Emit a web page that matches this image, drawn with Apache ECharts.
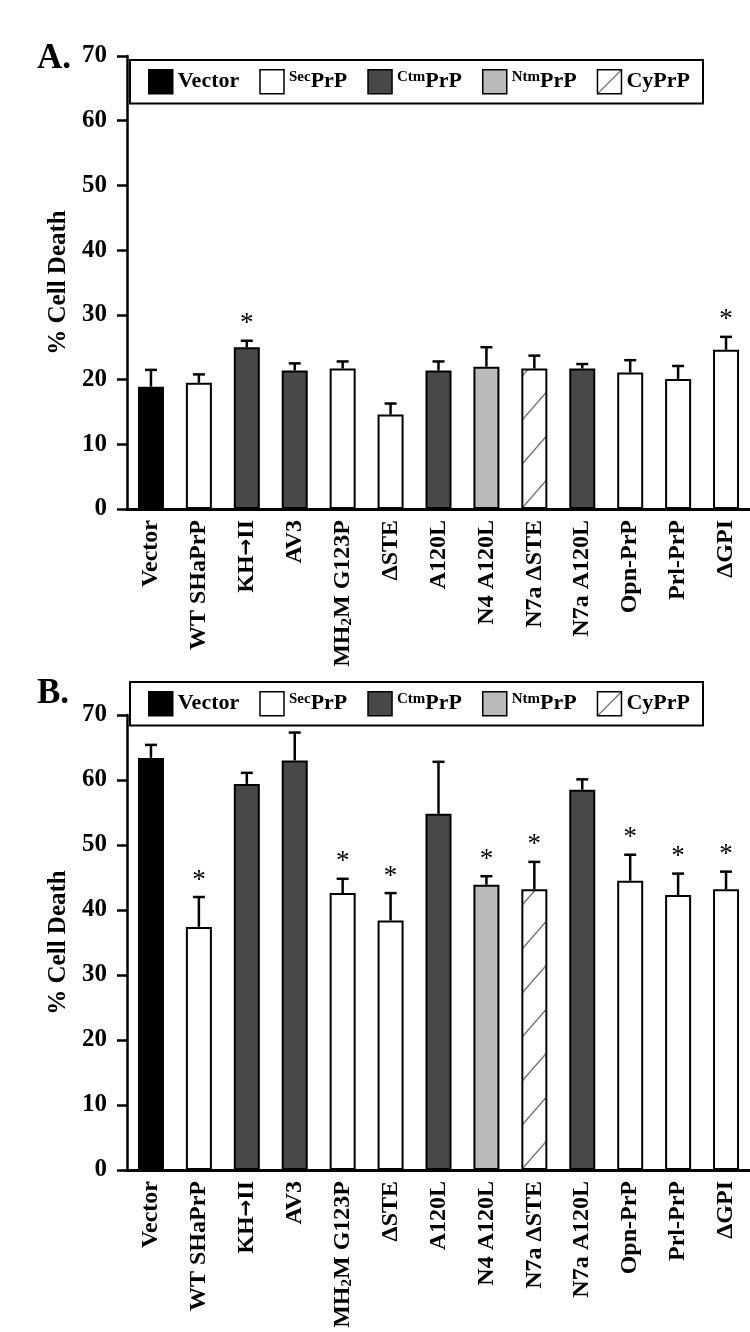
<!DOCTYPE html>
<html><head><meta charset="utf-8">
<script src="https://cdn.jsdelivr.net/npm/echarts@6/dist/echarts.min.js"></script>
<style>html,body{margin:0;padding:0;background:#fff}#c{width:750px;height:1332px}</style>
</head><body><div id="c"></div>
<script>
const categories = ['Vector','WT SHaPrP','KH\u2192II','AV3','MH2M G123P','\u0394STE','A120L','N4 A120L','N7a \u0394STE','N7a A120L','Opn-PrP','Prl-PrP','\u0394GPI'];
const groupOf = ['Vector','Sec','Ctm','Ctm','Sec','Sec','Ctm','Ntm','Cy','Ctm','Sec','Sec','Sec'];
const valuesA = [18.9,19.5,25.0,21.4,21.7,14.6,21.4,22.0,21.7,21.7,21.1,20.1,24.6];
const errA    = [2.6,1.3,1.0,1.1,1.1,1.7,1.4,3.0,2.0,0.7,1.9,2.0,2.0];
const sigA    = [2,12];
const valuesB = [63.4,37.4,59.4,63.0,42.6,38.4,54.8,43.9,43.2,58.5,44.5,42.3,43.2];
const errB    = [2.0,4.6,1.7,4.3,2.2,4.2,8.0,1.3,4.2,1.6,4.0,3.3,2.7];
const sigB    = [1,4,5,7,8,10,11,12];
const legendNames = ['Vector','Sec','Ctm','Ntm','Cy'];
const yTicks = {min:0, max:70, interval:10};

const FONT = 'Liberation Serif';
const solid = {Vector:'#000000', Sec:'#ffffff', Ctm:'#484848', Ntm:'#bababa'};

function hatch(w,h,x1,y1,x2,y2){
  const c=document.createElement('canvas'); c.width=w; c.height=h;
  const g=c.getContext('2d'); g.fillStyle='#fff'; g.fillRect(0,0,w,h);
  g.strokeStyle='#000'; g.lineWidth=1; g.beginPath(); g.moveTo(x1,y1); g.lineTo(x2,y2); g.stroke();
  return c;
}
const barTile = hatch(26,44,0,44,26,14);
const legTile = hatch(24,24,0,24,24,0);

function fillFor(grp, pat){ return grp==='Cy' ? pat : solid[grp]; }

function barSeries(idx, values, pat){
  return {type:'bar', xAxisIndex:idx, yAxisIndex:idx, barWidth:26, z:2,
    data: values.map((v,i)=>({value:v, itemStyle:{color:fillFor(groupOf[i],pat), borderColor:'#000', borderWidth:2}})),
    emphasis:{disabled:true}, animation:false};
}
function errSeries(idx, values, errs, sigs){
  return {type:'custom', xAxisIndex:idx, yAxisIndex:idx, z:3, animation:false,
    data: values.map((v,i)=>[i, v, v+errs[i], sigs.includes(i)?1:0]),
    renderItem(params, api){
      const i=api.value(0);
      const p0=api.coord([i, api.value(1)]), p1=api.coord([i, api.value(2)]);
      const cap=6;
      const ch=[
        {type:'line', shape:{x1:p0[0],y1:p0[1],x2:p1[0],y2:p1[1]}, style:{stroke:'#000',lineWidth:2.5}},
        {type:'line', shape:{x1:p1[0]-cap,y1:p1[1],x2:p1[0]+cap,y2:p1[1]}, style:{stroke:'#000',lineWidth:2.5}}
      ];
      if(api.value(3)) ch.push({type:'text', x:p1[0], y:p1[1]-3, style:{text:'*', fontSize:27, fontFamily:FONT, fill:'#000', align:'center', verticalAlign:'bottom'}});
      return {type:'group', children:ch};
    }};
}
function fmtCat(v){
  if(v==='MH2M G123P') return '{b|MH}{sub|2}{b|M G123P}';
  if(v==='KH\u2192II') return '{b|KH}{a|\u2192}{b|II}';
  return '{b|'+v+'}';
}
function xAxis(idx){
  return {type:'category', gridIndex:idx, data:categories,
    axisLine:{show:true, lineStyle:{color:'#000', width:3}}, axisTick:{show:false},
    axisLabel:{interval:0, rotate:90, margin:11, color:'#000', formatter:fmtCat,
      rich:{b:{fontFamily:FONT, fontWeight:'bold', fontSize:24, color:'#000'},
            a:{fontFamily:'DejaVu Sans', fontWeight:'bold', fontSize:20, color:'#000'},
            sub:{fontFamily:FONT, fontWeight:'bold', fontSize:15, color:'#000', padding:[8,0,0,0]}}}};
}
function yAxis(idx){
  return {type:'value', gridIndex:idx, min:yTicks.min, max:yTicks.max, interval:yTicks.interval,
    name:'% Cell Death', nameLocation:'middle', nameGap:46,
    nameTextStyle:{fontFamily:FONT, fontWeight:'bold', fontSize:25, color:'#000'},
    axisLine:{show:true, lineStyle:{color:'#000', width:2.5}},
    axisTick:{show:true, length:10, lineStyle:{color:'#000', width:2.5}},
    splitLine:{show:false},
    axisLabel:{margin:20, fontFamily:FONT, fontWeight:'bold', fontSize:25, color:'#000'}};
}
function legend(top){
  return {left:130, top:top, orient:'horizontal', selectedMode:false,
    borderColor:'#000', borderWidth:2, backgroundColor:'#fff', padding:[9,13,9,18],
    itemWidth:24, itemHeight:24, itemGap:20, icon:'rect',
    data: legendNames.map(n=>({name:n, icon:'rect', itemStyle:{color: n==='Cy'?{image:legTile,repeat:'repeat'}:solid[n], borderColor:'#000', borderWidth:1.5, opacity:1}})),
    formatter: n => n==='Vector' ? '{b|Vector}' : n==='Cy' ? '{b|CyPrP}' : '{s|'+n+'}{b|PrP}',
    textStyle:{color:'#000', rich:{
      b:{fontFamily:FONT, fontWeight:'bold', fontSize:22, color:'#000'},
      s:{fontFamily:FONT, fontWeight:'bold', fontSize:15, color:'#000', padding:[0,0,9,0]}}}};
}
function buildOption(patA, patB){
  return {
    backgroundColor:'#fff', animation:false,
    grid:[{left:127, top:56, width:624, height:453}, {left:127, top:715, width:624, height:455}],
    xAxis:[xAxis(0), xAxis(1)], yAxis:[yAxis(0), yAxis(1)],
    legend:[legend(60), legend(682)],
    graphic:[
      {type:'text', left:37, top:41, style:{text:'A.', fontFamily:FONT, fontWeight:'bold', fontSize:35, fill:'#000'}},
      {type:'text', left:37, top:676, style:{text:'B.', fontFamily:FONT, fontWeight:'bold', fontSize:35, fill:'#000'}}
    ],
    series:[
      barSeries(0, valuesA, patA), errSeries(0, valuesA, errA, sigA),
      barSeries(1, valuesB, patB), errSeries(1, valuesB, errB, sigB),
      ...legendNames.map(n=>({type:'scatter', name:n, data:[], xAxisIndex:0, yAxisIndex:0, itemStyle:{opacity:1}}))
    ]
  };
}
const chart = echarts.init(document.getElementById('c'), null, {renderer:'canvas'});
const base = {image:barTile, repeat:'repeat'};
chart.setOption(buildOption(base, base));
const cyIdx = groupOf.indexOf('Cy');
const pa = chart.convertToPixel({gridIndex:0}, [cyIdx, 0]);
const pb = chart.convertToPixel({gridIndex:1}, [cyIdx, 0]);
chart.setOption(buildOption(
  {image:barTile, repeat:'repeat', x:pa[0]-13, y:pa[1]},
  {image:barTile, repeat:'repeat', x:pb[0]-13, y:pb[1]}));
</script></body></html>
